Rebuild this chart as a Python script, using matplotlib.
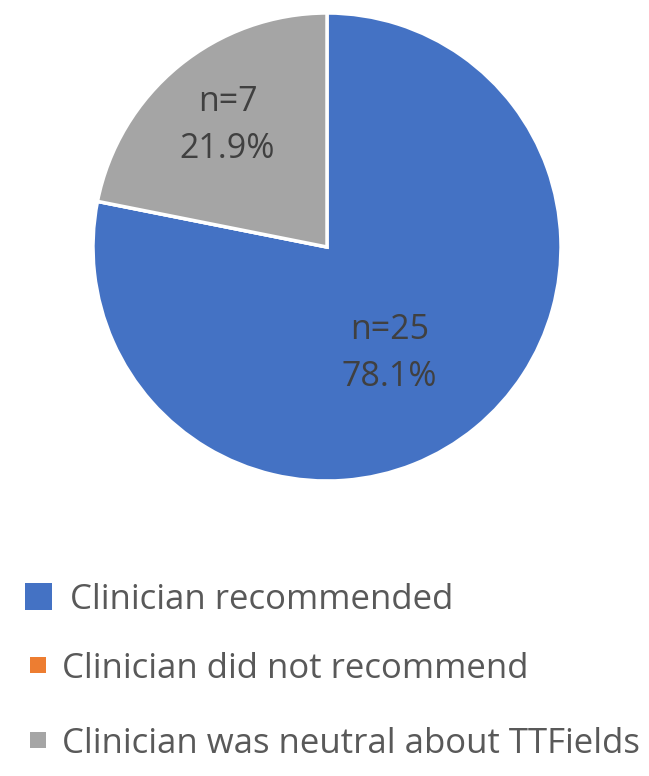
import numpy as np
import matplotlib.pyplot as plt
from matplotlib.patches import Rectangle

# data
labels = ["Clinician recommended", "Clinician did not recommend",
          "Clinician was neutral about TTFields"]
counts = [25, 0, 7]
percents = [78.1, 0.0, 21.9]
colors = ["#4472C4", "#ED7D31", "#A5A5A5"]

plt.rcParams['font.family'] = ['Open Sans', 'DejaVu Sans']

W, H = 649, 776
fig = plt.figure(figsize=(W / 100, H / 100), dpi=100)

# pie: centre (327, 247) px, radius 234 px
cx, cy, r = 327, 247, 234
ax = fig.add_axes([(cx - r) / W, (H - cy - r) / H, 2 * r / W, 2 * r / H])
wedges, _ = ax.pie(counts, colors=colors, startangle=90, counterclock=False,
                   wedgeprops=dict(edgecolor="white", linewidth=2.5))
ax.set_xlim(-1, 1)
ax.set_ylim(-1, 1)
ax.set_aspect("auto")

# data labels inside slices
label_dist = [0.53, 0, 0.67]
angle_shift = [-9, 0, 0]
for w, n, p, d, s in zip(wedges, counts, percents, label_dist, angle_shift):
    if n == 0:
        continue
    mid = np.deg2rad((w.theta1 + w.theta2) / 2 + s)
    ax.text(d * np.cos(mid), d * np.sin(mid), f"n={n}\n{p:.1f}%",
            ha="center", va="center", fontsize=24.5, color="#404040",
            linespacing=1.5)

# legend (drawn by hand, Excel style)
row_y = [596, 665, 740]
box_size = [27, 16, 16]
box_x = [25, 30, 30]
text_x = [70, 62, 62]
for lab, c, y, bs, bx, tx in zip(labels, colors, row_y, box_size, box_x, text_x):
    fig.patches.append(Rectangle((bx / W, (H - y - bs / 2) / H), bs / W, bs / H,
                                 transform=fig.transFigure, facecolor=c,
                                 edgecolor="none"))
    fig.text(tx / W, (H - y) / H, lab, ha="left", va="center_baseline",
             fontsize=25, color="#595959")

fig.savefig("out.png", dpi=100)
